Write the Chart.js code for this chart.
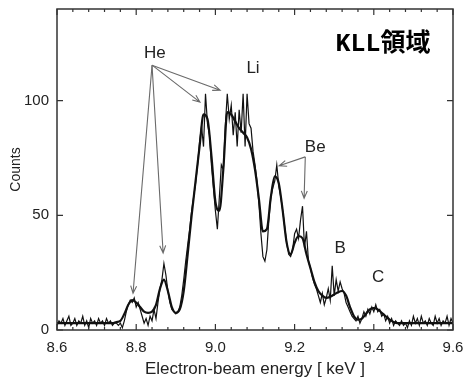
<!DOCTYPE html>
<html>
<head>
<meta charset="utf-8">
<script src="https://cdn.jsdelivr.net/npm/chart.js@4"></script>
<style>
  html, body { margin: 0; padding: 0; background: #fff; }
  #wrap { width: 465px; height: 382px; }
</style>
</head>
<body>
<div id="wrap"><canvas id="klChart" width="465" height="382"></canvas></div>
<script>
// measured spectrum: sampled every 5 eV starting at 8.600 keV
const dataStart = 8.6;
const dataStep = 0.005;
const measuredCounts = [
  2, 4, 3, 5, 2, 4, 6, 2, 3, 5, 2, 4, 3, 6, 2, 4, 1, 5, 3, 4,   // 8.600 - 8.695
  2, 5, 3, 4, 2, 5, 3, 4, 2, 3, 3, 2, 3, 1, 4, 8, 11, 13, 12, 14, // 8.700 - 8.795
  10, 12, 9, 6, 3, 5, 2, 6, 4, 9, 5, 12, 18, 22, 29, 24, 17, 12, 9, 8, // 8.800 - 8.895
  7, 8, 10, 15, 22, 30, 37, 44, 52, 58, 64, 72, 82, 89, 80, 103, 90, 85, 72, 62, // 8.900 - 8.995
  52, 44, 58, 72, 70, 89, 103, 92, 98, 85, 95, 80, 96, 86, 103, 80, 103, 90, 88, 78, // 9.000 - 9.095
  72, 65, 55, 42, 32, 30, 35, 48, 58, 62, 65, 72, 63, 58, 52, 45, 38, 33, 32, 35, // 9.100 - 9.195
  42, 44, 40, 48, 54, 36, 43, 30, 27, 23, 20, 18, 15, 12, 16, 11, 14, 18, 13, 28, // 9.200 - 9.295
  15, 22, 17, 21, 18, 16, 12, 10, 8, 6, 5, 4, 6, 3, 5, 8, 6, 9, 7, 10,  // 9.300 - 9.395
  8, 11, 8, 9, 6, 7, 4, 6, 3, 5, 2, 4, 3, 2, 4, 2, 3, 1, 4, 2,  // 9.400 - 9.495
  6, 3, 5, 2, 6, 3, 4, 2, 5, 3, 2, 6, 3, 5, 2, 4, 3, 6, 2, 5,   // 9.500 - 9.595
  3                                                             // 9.600
];

// fitted curve: sampled every 10 eV starting at 8.60 keV
const fitStart = 8.6;
const fitStep = 0.01;
const fitCounts = [
  3, 3, 3, 3, 3, 3, 3, 3, 3, 3,               // 8.60 - 8.69
  3, 3, 3, 3, 3, 3.5, 4, 7, 11, 13,           // 8.70 - 8.79
  12, 10, 8, 7.5, 8, 11, 18, 22, 17, 10,      // 8.80 - 8.89
  7.5, 9, 17, 33, 50, 65, 80, 94, 92, 76,     // 8.90 - 8.99
  56, 52, 70, 95, 94, 91, 88, 86, 84, 79,     // 9.00 - 9.09
  70, 57, 43, 44, 58, 67, 64, 52, 38, 33,     // 9.10 - 9.19
  38, 41, 40, 33, 27, 21, 17, 15, 14, 14.5,   // 9.20 - 9.29
  15.5, 16.5, 17, 15, 10, 6, 4.5, 5, 7, 9,    // 9.30 - 9.39
  9.5, 9, 7.5, 6, 4.5, 3.5, 3, 3, 3, 3,       // 9.40 - 9.49
  3, 3, 3, 3, 3, 3, 3, 3, 3, 3,               // 9.50 - 9.59
  3                                           // 9.60
];

const xTickLabels = ['8.6', '8.8', '9.0', '9.2', '9.4', '9.6'];
const yTickValues = [0, 50, 100];

// peak labels and arrows, in data coordinates (keV, counts)
const peakLabels = [
  { text: 'He', x: 8.847, y: 120.7 },
  { text: 'Li', x: 9.095, y: 114.2 },
  { text: 'Be', x: 9.252, y: 79.8 },
  { text: 'B',  x: 9.315, y: 35.7 },
  { text: 'C',  x: 9.411, y: 23.1 }
];
const peakArrows = [
  { from: [8.840, 115.5], to: [8.792, 16.0] },
  { from: [8.840, 115.5], to: [8.868, 33.6] },
  { from: [8.840, 115.5], to: [8.961, 99.4] },
  { from: [8.840, 115.5], to: [9.012, 104.6] },
  { from: [9.227, 75.5],  to: [9.161, 71.6] },
  { from: [9.227, 75.5],  to: [9.224, 57.4] }
];

function toPoints(start, step, values) {
  return values.map((v, i) => ({ x: +(start + i * step).toFixed(3), y: v }));
}

// frame, inward ticks, arrows and labels
const spectrumDecor = {
  id: 'spectrumDecor',
  afterDatasetsDraw(chart) {
    const ctx = chart.ctx;
    const area = chart.chartArea;
    const xs = chart.scales.x;
    const ys = chart.scales.y;
    ctx.save();

    // frame
    ctx.strokeStyle = '#333';
    ctx.lineWidth = 1.5;
    ctx.strokeRect(area.left, area.top, area.right - area.left, area.bottom - area.top);

    // x ticks (minor every 0.04, major every 0.2), bottom and top
    ctx.lineWidth = 1.2;
    for (let i = 0; i <= 25; i++) {
      const px = xs.getPixelForValue(8.6 + i * 0.04);
      const len = (i % 5 === 0) ? 6 : 3;
      ctx.beginPath();
      ctx.moveTo(px, area.bottom);
      ctx.lineTo(px, area.bottom - len);
      ctx.moveTo(px, area.top);
      ctx.lineTo(px, area.top + len);
      ctx.stroke();
    }
    // y ticks, left and right
    yTickValues.forEach(v => {
      const py = ys.getPixelForValue(v);
      ctx.beginPath();
      ctx.moveTo(area.left, py);
      ctx.lineTo(area.left + 6, py);
      ctx.moveTo(area.right, py);
      ctx.lineTo(area.right - 6, py);
      ctx.stroke();
    });

    // arrows
    ctx.strokeStyle = '#6a6a6a';
    ctx.lineWidth = 1.1;
    peakArrows.forEach(a => {
      const x1 = xs.getPixelForValue(a.from[0]), y1 = ys.getPixelForValue(a.from[1]);
      const x2 = xs.getPixelForValue(a.to[0]), y2 = ys.getPixelForValue(a.to[1]);
      const ang = Math.atan2(y2 - y1, x2 - x1);
      const head = 8, spread = 0.38;
      ctx.beginPath();
      ctx.moveTo(x1, y1);
      ctx.lineTo(x2, y2);
      ctx.moveTo(x2 - head * Math.cos(ang - spread), y2 - head * Math.sin(ang - spread));
      ctx.lineTo(x2, y2);
      ctx.lineTo(x2 - head * Math.cos(ang + spread), y2 - head * Math.sin(ang + spread));
      ctx.stroke();
    });

    // peak labels
    ctx.fillStyle = '#222';
    ctx.font = '17px "Liberation Sans", Arial, sans-serif';
    ctx.textAlign = 'center';
    ctx.textBaseline = 'middle';
    peakLabels.forEach(l => {
      ctx.fillText(l.text, xs.getPixelForValue(l.x), ys.getPixelForValue(l.y));
    });

    // region label
    ctx.fillStyle = '#000';
    ctx.font = 'bold 25px "Liberation Mono", "Noto Sans CJK JP", monospace';
    ctx.fillText('KLL領域', 383, 45);

    ctx.restore();
  }
};

const ctx = document.getElementById('klChart');
new Chart(ctx, {
  type: 'line',
  data: {
    datasets: [
      {
        label: 'measured',
        data: toPoints(dataStart, dataStep, measuredCounts),
        borderColor: '#111',
        borderWidth: 1.2,
        pointRadius: 0,
        tension: 0,
        fill: false
      },
      {
        label: 'fit',
        data: toPoints(fitStart, fitStep, fitCounts),
        borderColor: '#111',
        borderWidth: 2.2,
        pointRadius: 0,
        tension: 0.4,
        cubicInterpolationMode: 'monotone',
        fill: false
      }
    ]
  },
  options: {
    responsive: false,
    animation: false,
    layout: { padding: { top: 9, right: 12, left: 0, bottom: 0 } },
    plugins: {
      legend: { display: false },
      tooltip: { enabled: false }
    },
    scales: {
      x: {
        type: 'linear',
        min: 8.6,
        max: 9.6,
        grid: { display: false, drawTicks: false },
        border: { display: false },
        afterFit(scale) {
          scale.height = 52;
          scale.paddingLeft = 0;
          scale.paddingRight = 0;
        },
        ticks: {
          stepSize: 0.2,
          padding: 9,
          autoSkip: false,
          maxRotation: 0,
          color: '#222',
          font: { family: '"Liberation Sans", Arial, sans-serif', size: 15 },
          callback: (v) => {
            const s = v.toFixed(1);
            return xTickLabels.includes(s) ? s : '';
          }
        },
        title: {
          display: true,
          text: 'Electron-beam energy [ keV ]',
          color: '#222',
          font: { family: '"Liberation Sans", Arial, sans-serif', size: 17 },
          padding: { top: 0, bottom: 2 }
        }
      },
      y: {
        min: 0,
        max: 140,
        grid: { display: false, drawTicks: false },
        border: { display: false },
        afterFit(scale) {
          scale.width = 57;
          scale.paddingTop = 0;
          scale.paddingBottom = 0;
        },
        ticks: {
          stepSize: 50,
          padding: 8,
          color: '#222',
          font: { family: '"Liberation Sans", Arial, sans-serif', size: 15 },
          callback: (v) => yTickValues.includes(v) ? String(v) : ''
        },
        title: {
          display: true,
          text: 'Counts',
          color: '#222',
          font: { family: '"Liberation Sans", Arial, sans-serif', size: 14 },
          padding: { top: 8, bottom: 0 }
        }
      }
    }
  },
  plugins: [spectrumDecor]
});
</script>
</body>
</html>
